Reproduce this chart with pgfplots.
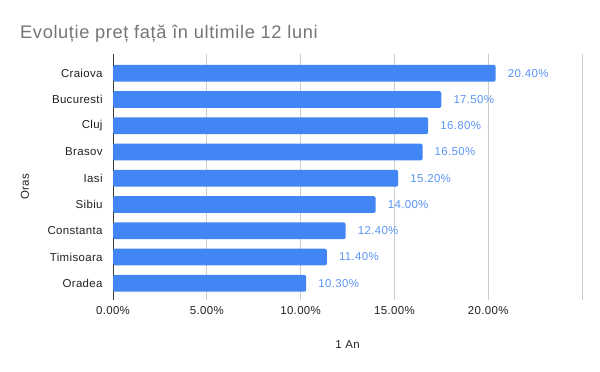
\documentclass[border=0pt]{standalone}
\usepackage{pgfplots}
\pgfplotsset{compat=1.18}
\usepackage{fontspec}
\setmainfont{Liberation Sans}[LetterSpace=3]
\definecolor{barblue}{HTML}{4285F4}
\definecolor{lblblue}{HTML}{5B95F5}
\definecolor{titlegray}{HTML}{757575}
\definecolor{gridgray}{HTML}{CCCCCC}
\definecolor{txt}{HTML}{222222}
\begin{document}
\begin{tikzpicture}[x=1bp,y=1bp]
\path[use as bounding box,fill=white] (0,0) rectangle (600,371);
\node[anchor=base west,text=titlegray,font=\fontsize{18.3}{20}\selectfont\addfontfeature{LetterSpace=3.5},inner sep=0] at (20,333) {Evoluție preț față în ultimile 12 luni};
\begin{axis}[
  at={(113bp,71bp)}, anchor=south west,
  scale only axis, width=469bp, height=246bp,
  xbar, bar width=16.7bp,
  xmin=0, xmax=25, ymin=-0.636, ymax=8.735,
  xtick={0,5,10,15,20,25},
  xticklabels={0.00\%,5.00\%,10.00\%,15.00\%,20.00\%,},
  ytick={0,...,8},
  yticklabels={Oradea,Timisoara,Constanta,Sibiu,Iasi,Brasov,Cluj,Bucuresti,Craiova},
  xmajorgrids, major grid style={gridgray,line width=0.8bp},
  axis x line*=bottom, axis y line*=left,
  x axis line style={draw=none,-},
  y axis line style={draw=txt!90,line width=0.8bp,-},
  tick style={draw=none},
  /pgf/number format/assume math mode=true,
  ticklabel style={text=txt,font=\fontsize{11.5}{13}\selectfont},
  yticklabel style={anchor=east,inner sep=0,xshift=-6bp},
  xticklabel style={yshift=-3bp},
  nodes near coords={\pgfmathprintnumber[fixed,fixed zerofill,precision=2]{\pgfplotspointmeta}\%},
  point meta=explicit,
  nodes near coords style={anchor=west,inner sep=0,xshift=12bp,text=lblblue,font=\fontsize{11.5}{13}\selectfont},
  clip=false,
]
\addplot[fill=barblue,draw=none,rounded corners=2bp] coordinates {
 (10.30,0) [10.30]
 (11.40,1) [11.40]
 (12.40,2) [12.40]
 (14.00,3) [14.00]
 (15.20,4) [15.20]
 (16.50,5) [16.50]
 (16.80,6) [16.80]
 (17.50,7) [17.50]
 (20.40,8) [20.40]
};
\end{axis}
\node[text=txt,font=\fontsize{11.5}{13}\selectfont,rotate=90,inner sep=0] at (25,184.3) {Oras};
\node[text=txt,font=\fontsize{11.5}{13}\selectfont,inner sep=0] at (347.5,26) {1 An};
\end{tikzpicture}
\end{document}
